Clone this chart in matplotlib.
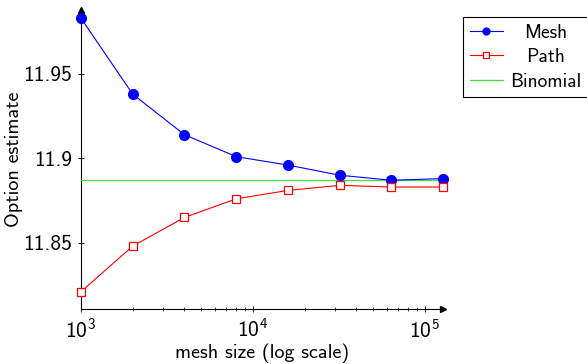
import numpy as np
import matplotlib
matplotlib.use('Agg')
import matplotlib.pyplot as plt
from matplotlib.ticker import FixedLocator, FixedFormatter, LogLocator, NullFormatter

plt.rcParams['font.family'] = ['cmss10', 'DejaVu Sans']
plt.rcParams['mathtext.fontset'] = 'custom'
plt.rcParams['mathtext.rm'] = 'cmss10'
plt.rcParams['mathtext.it'] = 'cmss10'
plt.rcParams['axes.unicode_minus'] = False

# mesh sizes
mesh_size = [1000, 2000, 4000, 8000, 16000, 32000, 64000, 128000]
mesh_est = [11.983, 11.938, 11.914, 11.901, 11.896, 11.890, 11.887, 11.888]
path_est = [11.821, 11.848, 11.865, 11.876, 11.881, 11.884, 11.883, 11.883]
binomial = 11.887

yticks = [11.85, 11.9, 11.95]
ytick_labels = ['11.85', '11.9', '11.95']

fig = plt.figure(figsize=(5.87, 3.64), dpi=100)
ax = fig.add_axes([0.138, 0.151, 0.617, 0.822])

ax.plot(mesh_size, mesh_est, color='#0000ff', lw=0.8, marker='o', ms=7,
        mfc='#0000ff', mec='#0000ff', label='Mesh', clip_on=False, zorder=4)
ax.plot(mesh_size, path_est, color='#ff0000', lw=0.8, marker='s', ms=5.6,
        mfc='white', mec='#ff0000', mew=0.9, label='Path', clip_on=False, zorder=4)
ax.plot([mesh_size[0], mesh_size[-1]], [binomial, binomial], color='#44dd44',
        lw=0.9, label='Binomial', zorder=3)

ax.set_xscale('log')
ax.set_xlim(mesh_size[0], mesh_size[-1])
ax.set_ylim(11.8107, 11.988)

ax.yaxis.set_major_locator(FixedLocator(yticks))
ax.yaxis.set_major_formatter(FixedFormatter(ytick_labels))
ax.xaxis.set_major_locator(LogLocator(base=10, numticks=10))
ax.xaxis.set_minor_locator(LogLocator(base=10, subs=np.arange(2, 10), numticks=20))
ax.xaxis.set_minor_formatter(NullFormatter())

ax.spines['top'].set_visible(False)
ax.spines['right'].set_visible(False)
for s in ['left', 'bottom']:
    ax.spines[s].set_linewidth(0.8)

ax.tick_params(axis='both', which='major', direction='inout', length=5, width=0.6,
               labelsize=15.5, pad=4)
ax.tick_params(axis='x', which='minor', direction='inout', length=3, width=0.5)

# axis arrows
ax.plot(1, 0, marker='>', color='k', ms=4, transform=ax.transAxes, clip_on=False)
ax.plot(0, 1, marker='^', color='k', ms=4, transform=ax.transAxes, clip_on=False)

ax.set_xlabel('mesh size (log scale)', fontsize=14.5, labelpad=1)
ax.set_ylabel('Option estimate', fontsize=14.5)
ax.yaxis.set_label_coords(-0.16, 0.5)

leg = fig.legend(loc='upper left', bbox_to_anchor=(463 / 587, 1 - 17 / 364),
                 borderaxespad=0, fontsize=14, frameon=True, fancybox=False,
                 framealpha=1, edgecolor='black', handlelength=1.7, borderpad=0.35,
                 labelspacing=0.33, handletextpad=0.35, markerscale=0.7)
leg.get_frame().set_linewidth(0.8)

# centre the legend labels like pgfplots does
fig.canvas.draw()
texts = leg.get_texts()
widths = [t.get_window_extent().width for t in texts]
for t, w in zip(texts, widths):
    t.set_x((max(widths) - w) / 2)

fig.savefig('out.png', dpi=100)
